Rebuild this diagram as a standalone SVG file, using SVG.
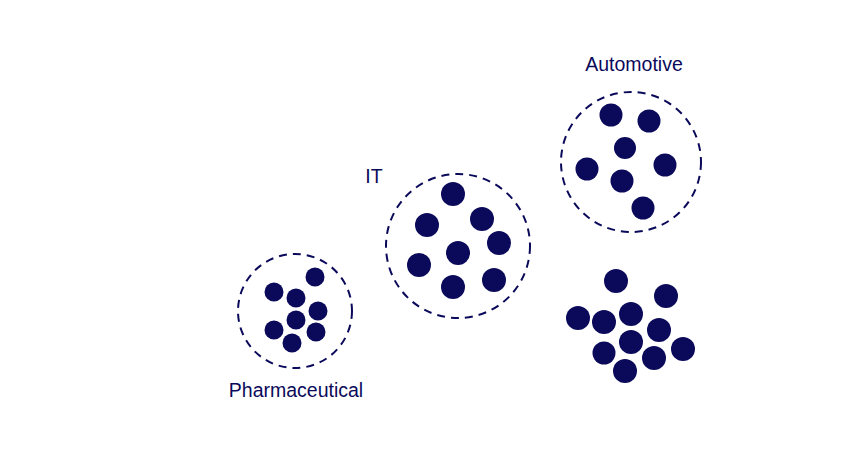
<svg xmlns="http://www.w3.org/2000/svg" width="841" height="451" viewBox="0 0 841 451">
<style>
.ring{fill:none;stroke:#0b0a5a;stroke-width:2;stroke-dasharray:8 6}
.dot{fill:#0b0a5a}
.lbl{font-family:"Liberation Sans",Arial,sans-serif;font-size:19.5px;fill:#0b0a5a;text-anchor:middle}
</style>
<rect width="841" height="451" fill="#fff"/>
<g id="pharmaceutical">
<circle class="ring" cx="295" cy="311" r="57"/>
<circle class="dot" cx="315" cy="277" r="9.5"/>
<circle class="dot" cx="274" cy="292" r="9.5"/>
<circle class="dot" cx="296" cy="298" r="9.5"/>
<circle class="dot" cx="318" cy="311" r="9.5"/>
<circle class="dot" cx="296" cy="320" r="9.5"/>
<circle class="dot" cx="274" cy="330" r="9.5"/>
<circle class="dot" cx="316" cy="332" r="9.5"/>
<circle class="dot" cx="292" cy="343" r="9.5"/>
<text class="lbl" x="296" y="397">Pharmaceutical</text>
</g>
<g id="it">
<circle class="ring" cx="458" cy="246" r="72"/>
<circle class="dot" cx="453" cy="194" r="12"/>
<circle class="dot" cx="427" cy="225" r="12"/>
<circle class="dot" cx="482" cy="219" r="12"/>
<circle class="dot" cx="499" cy="243" r="12"/>
<circle class="dot" cx="458" cy="253" r="12"/>
<circle class="dot" cx="419" cy="265" r="12"/>
<circle class="dot" cx="453" cy="287" r="12"/>
<circle class="dot" cx="494" cy="280" r="12"/>
<text class="lbl" x="374" y="183">IT</text>
</g>
<g id="automotive">
<circle class="ring" cx="631" cy="162" r="70"/>
<circle class="dot" cx="611" cy="115" r="11.5"/>
<circle class="dot" cx="649" cy="121" r="11.5"/>
<circle class="dot" cx="625" cy="148" r="11"/>
<circle class="dot" cx="587" cy="169" r="11.5"/>
<circle class="dot" cx="665" cy="165" r="11.5"/>
<circle class="dot" cx="622" cy="181" r="11.5"/>
<circle class="dot" cx="643" cy="208" r="11.5"/>
<text class="lbl" x="634" y="71">Automotive</text>
</g>
<g id="unclustered">
<circle class="dot" cx="616" cy="281" r="12"/>
<circle class="dot" cx="666" cy="296" r="12"/>
<circle class="dot" cx="578" cy="318" r="12"/>
<circle class="dot" cx="604" cy="322" r="12"/>
<circle class="dot" cx="631" cy="314" r="12"/>
<circle class="dot" cx="659" cy="330" r="12"/>
<circle class="dot" cx="631" cy="342" r="12"/>
<circle class="dot" cx="604" cy="353" r="11.5"/>
<circle class="dot" cx="683" cy="349" r="12"/>
<circle class="dot" cx="654" cy="358" r="12"/>
<circle class="dot" cx="625" cy="371" r="12"/>
</g>
<g id="connectors"/>
</svg>
